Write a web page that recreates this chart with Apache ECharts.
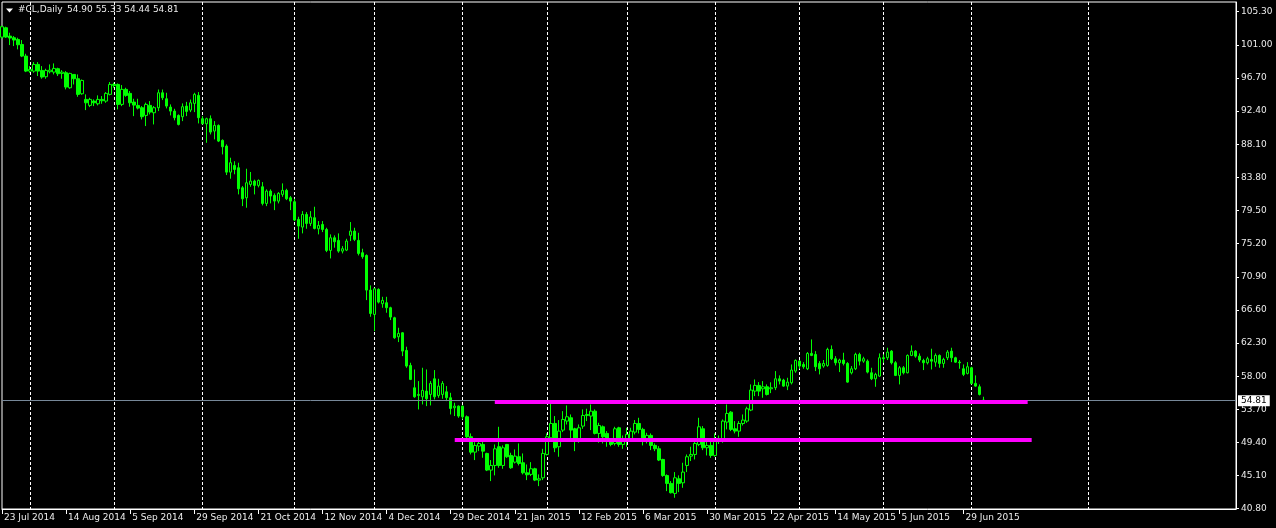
<!DOCTYPE html>
<html><head><meta charset="utf-8">
<script src="https://cdn.jsdelivr.net/npm/echarts@6/dist/echarts.min.js"></script>
<style>html,body{margin:0;padding:0;background:#000;}#c{width:1276px;height:528px;}</style>
</head><body><div id="c"></div>
<script>
// ---- data ----
const symbolName = '#CL,Daily';
const tickLabels = ['23 Jul 2014','14 Aug 2014','5 Sep 2014','29 Sep 2014','21 Oct 2014','12 Nov 2014','4 Dec 2014','29 Dec 2014','21 Jan 2015','12 Feb 2015','6 Mar 2015','30 Mar 2015','22 Apr 2015','14 May 2015','5 Jun 2015','29 Jun 2015'];
const priceTicks = [40.80,45.10,49.40,53.70,58.00,62.30,66.60,70.90,75.20,79.50,83.80,88.10,92.40,96.70,101.00,105.30];
const monthStartBars = [7,28,50,73,93,115,136,156,178,199,220,242,271];
const levelValues = [54.74, 49.74];
const levelFrom = [123, 113];
const levelTo = [256, 257];
const totalSlots = 309;

const open = [
102.00,103.22,102.14,101.92,101.70,101.05,99.54,97.59,97.59,98.46,
97.68,96.86,97.51,97.46,97.90,97.29,97.38,95.43,97.16,96.60,
94.65,93.92,93.14,93.70,93.35,93.92,93.70,94.57,95.86,95.86,
93.27,95.22,94.70,93.57,93.14,92.84,91.84,93.14,92.19,92.84,
94.78,94.00,92.92,92.40,91.84,91.67,93.05,92.53,93.40,94.44,
91.41,90.76,91.41,89.81,90.54,88.60,87.86,84.48,85.35,85.05,
82.45,81.15,82.88,83.32,82.76,82.58,80.42,82.02,81.46,80.72,
81.59,82.11,81.15,80.64,78.34,77.35,78.99,77.82,78.56,77.13,
77.69,77.04,74.32,75.96,75.62,74.23,74.36,76.27,76.83,75.62,
74.02,73.67,69.17,66.01,69.26,67.40,67.53,66.88,65.58,63.11,
63.63,61.34,59.39,56.49,55.50,55.32,56.06,55.63,57.66,55.50,
55.63,55.97,55.20,53.90,54.11,54.11,52.73,50.13,48.14,48.92,
49.14,47.97,45.81,46.41,48.84,46.41,49.14,47.71,46.84,47.54,
46.76,45.46,45.25,45.98,44.51,44.81,47.84,50.00,51.86,48.84,
51.00,52.17,52.60,51.17,49.57,51.52,52.90,52.82,53.46,50.57,
51.43,50.57,49.57,49.27,51.30,49.14,49.57,49.87,50.74,51.86,
51.09,49.70,50.31,49.01,48.58,47.19,45.10,44.08,42.78,44.68,
44.16,46.41,47.62,47.84,49.14,51.17,48.71,49.01,47.71,49.87,
49.57,52.04,53.33,51.17,50.87,51.86,52.17,53.60,56.06,56.80,
56.36,56.62,56.36,56.50,57.66,57.49,56.71,57.14,58.66,59.95,
59.52,58.96,60.95,60.82,59.65,59.31,59.39,61.47,60.26,59.74,
60.09,59.65,58.44,58.96,60.82,59.95,59.95,58.44,57.66,58.01,
60.39,60.39,61.25,59.74,58.10,59.09,58.44,60.69,61.25,60.60,
60.04,59.74,60.17,59.82,60.69,59.65,60.39,61.25,60.39,59.82,
58.96,58.36,59.09,57.06,56.62,54.90];
const close = [
103.35,102.01,101.88,101.62,101.01,99.54,97.59,97.81,98.46,97.59,
96.82,97.68,97.72,97.94,97.25,97.46,95.52,97.29,96.60,94.57,
96.38,93.48,93.92,93.48,93.92,93.74,94.70,95.86,95.73,93.27,
95.22,94.44,93.48,93.18,92.79,91.67,93.27,92.27,92.84,94.78,
94.13,93.05,92.40,91.54,90.67,92.97,92.36,93.48,94.57,91.54,
90.76,91.41,89.68,90.54,88.51,87.77,84.48,85.70,84.83,82.32,
81.02,83.10,83.32,82.76,83.40,80.42,82.02,81.37,80.72,81.72,
82.11,81.02,80.72,78.26,77.48,78.99,77.82,78.65,77.17,77.56,
77.04,74.32,75.96,75.44,74.23,74.54,75.53,76.83,75.75,73.93,
73.50,69.17,66.14,69.34,67.61,67.83,66.88,65.67,62.98,63.55,
61.25,59.31,57.58,55.32,55.63,56.15,55.07,57.06,55.32,56.71,
57.06,55.20,53.81,54.11,52.82,52.73,50.13,48.14,49.01,49.27,
48.27,45.81,46.41,48.57,46.41,48.70,47.54,46.11,47.62,46.67,
45.46,45.20,45.98,44.51,44.68,47.97,50.13,51.86,48.70,50.87,
52.38,52.73,51.00,49.57,51.30,52.90,53.03,53.46,50.57,51.60,
50.13,49.57,49.14,51.17,49.14,49.57,50.44,50.87,51.86,51.09,
49.87,50.31,49.01,48.58,47.11,45.10,44.08,42.87,44.81,44.08,
45.55,47.54,47.84,49.27,51.43,48.71,49.01,47.71,49.79,49.57,
52.17,53.16,51.09,50.87,51.86,52.30,53.77,56.19,56.80,56.06,
56.62,55.63,56.50,57.66,57.36,56.71,57.23,58.79,60.04,59.31,
59.22,60.95,60.69,59.22,58.96,59.65,61.47,60.26,59.74,60.09,
59.65,57.23,58.96,60.82,59.95,60.26,58.53,57.66,58.23,60.39,
60.26,61.12,59.74,58.10,59.09,58.44,60.69,61.25,60.60,60.09,
59.74,60.26,59.95,60.69,59.65,60.17,61.12,60.39,59.82,59.74,
58.23,59.22,57.06,56.71,55.63,54.81];
const low = [
101.80,101.90,100.97,100.84,100.41,99.41,97.46,97.38,97.38,96.95,
96.60,96.60,97.29,97.16,96.95,96.60,95.22,95.30,95.86,94.26,
94.52,92.53,92.92,93.05,93.14,93.35,93.48,94.44,95.43,92.62,
93.05,94.26,92.97,91.75,92.62,91.32,90.46,91.97,90.67,92.40,
93.83,92.75,91.84,91.20,90.54,91.10,91.75,92.27,92.27,90.80,
90.67,88.29,89.37,88.73,88.38,86.78,84.10,83.62,84.20,81.59,
80.07,79.86,82.58,81.59,82.50,80.16,80.07,80.42,79.55,80.42,
81.28,80.85,79.55,78.13,75.83,76.53,77.13,77.48,77.05,76.40,
76.70,74.10,73.28,74.67,74.02,73.93,74.23,75.53,75.53,73.67,
73.24,67.87,65.71,63.85,67.44,66.88,66.23,65.28,62.85,62.42,
60.60,59.09,57.49,55.20,53.68,54.33,54.11,54.20,54.98,55.20,
55.07,54.76,53.03,52.82,52.60,52.39,49.87,47.84,47.11,48.27,
47.41,45.68,44.38,45.12,46.11,45.98,47.40,45.98,46.67,46.41,
45.25,44.51,45.03,44.38,43.73,44.51,47.71,49.57,48.14,47.54,
50.74,51.73,49.87,48.27,49.36,51.17,52.17,51.00,50.44,49.36,
49.27,48.84,48.90,49.01,48.84,48.57,48.84,49.70,50.44,50.57,
49.01,49.27,48.40,48.27,46.98,44.94,43.08,42.78,42.22,42.95,
43.51,45.55,46.98,47.19,48.92,48.40,47.71,47.41,47.54,49.20,
49.36,51.09,50.87,50.57,50.13,51.60,51.95,53.46,55.41,55.41,
55.20,55.50,55.80,56.19,56.93,56.62,56.19,56.93,58.44,58.96,
58.96,58.79,60.60,58.66,58.23,59.09,59.22,60.09,59.39,58.53,
59.39,57.14,58.23,58.79,59.39,59.74,58.36,57.49,56.62,57.92,
59.74,60.09,59.52,58.01,56.93,58.23,58.36,60.60,60.39,59.82,
58.79,59.52,58.87,59.22,59.09,59.09,60.09,59.82,59.74,58.96,
58.01,58.23,56.93,56.62,55.50,54.44];
const high = [
103.50,103.35,102.57,102.14,101.92,101.62,99.84,98.24,98.76,98.76,
98.24,97.90,98.46,98.59,98.03,97.72,97.59,97.38,97.20,97.16,
96.50,94.57,94.13,93.92,94.44,94.35,94.87,96.17,96.08,95.99,
95.78,95.43,95.00,94.00,94.00,93.05,93.50,93.70,93.05,95.20,
95.20,94.78,93.27,92.70,91.97,93.40,93.60,93.90,94.78,94.87,
91.75,91.54,91.84,91.10,90.67,88.73,88.08,86.35,85.90,85.70,
82.67,84.92,84.50,83.50,83.53,83.19,82.24,82.24,81.72,81.89,
83.02,82.32,81.37,81.02,78.69,79.42,79.29,79.42,79.99,78.13,
78.13,77.26,76.40,76.27,76.53,74.88,75.83,78.00,77.26,76.61,
74.54,73.80,69.78,69.47,69.40,68.30,68.30,67.01,65.71,64.28,
63.72,61.82,59.74,58.87,57.36,59.09,58.87,57.36,58.79,57.66,
57.36,56.71,55.84,54.55,54.20,54.20,52.90,50.57,49.44,49.87,
49.79,48.06,47.11,49.14,51.43,49.01,49.20,48.06,48.49,49.27,
47.97,46.54,46.84,46.11,45.25,48.57,50.57,54.55,52.82,52.30,
53.46,54.20,53.03,51.30,51.73,53.68,53.77,54.33,53.68,51.95,
51.60,50.87,49.87,51.43,51.43,50.30,51.30,51.30,52.30,52.60,
51.30,50.65,50.57,49.27,48.92,47.28,45.25,44.38,45.55,45.12,
46.76,47.84,48.84,49.57,52.60,51.52,49.57,49.57,50.57,50.30,
52.38,54.33,53.46,52.17,52.17,53.03,54.03,56.93,57.57,57.23,
57.36,56.93,57.20,58.66,58.10,57.66,57.79,59.52,60.17,60.09,
59.82,61.12,62.77,61.25,59.95,60.09,61.69,61.99,60.60,60.26,
61.04,59.82,59.31,61.04,61.04,60.52,60.17,59.09,58.44,60.95,
60.82,61.69,61.38,59.95,59.31,59.31,60.82,61.99,61.38,60.95,
60.26,60.52,61.56,60.95,60.82,60.39,61.38,61.69,60.52,60.09,
59.52,59.82,59.22,58.10,56.93,55.33];

// ---- build chart ----
const FONT = '"DejaVu Sans", "Liberation Sans", sans-serif';
const FS = 9;
const TXT = '#ececec';
const categories = Array.from({length: totalSlots}, (_, i) => String(i));
const candles = open.map((o, i) => [o, close[i], low[i], high[i]]);
const last = open.length - 1;
const lastClose = close[last];
const headerValues = [open[last], high[last], low[last], close[last]].map(v => v.toFixed(2)).join(' ');

const isLabelBar = idx => idx % 16 === 0 && idx / 16 < tickLabels.length;

const markData = [
  {
    yAxis: lastClose,
    lineStyle: {color: '#778899', width: 1, type: 'solid'},
    label: {
      show: true, position: 'end', distance: 2,
      formatter: lastClose.toFixed(2),
      color: '#000', backgroundColor: '#fff',
      fontFamily: FONT, fontSize: FS, padding: [1, 3, 1, 3]
    }
  }
];
levelValues.forEach((v, k) => {
  markData.push([
    {coord: [levelFrom[k], v], lineStyle: {color: '#ff00ff', width: 4, type: 'solid'}, label: {show: false}},
    {coord: [levelTo[k], v]}
  ]);
});

const chart = echarts.init(document.getElementById('c'), null, {renderer: 'canvas'});
chart.setOption({
  backgroundColor: '#000',
  animation: false,
  grid: {left: 2, top: 2, right: 40, bottom: 19, show: true, borderColor: '#fff', borderWidth: 1, backgroundColor: 'transparent'},
  xAxis: {
    type: 'category',
    data: categories,
    boundaryGap: false,
    axisLine: {show: true, lineStyle: {color: '#fff', width: 1}},
    axisTick: {show: true, interval: isLabelBar, length: 5, lineStyle: {color: '#fff'}},
    axisLabel: {
      show: true, interval: isLabelBar, align: 'left', margin: 4,
      padding: [0, 0, 0, 2],
      color: TXT, fontFamily: FONT, fontSize: FS,
      formatter: (val, idx) => tickLabels[idx / 16]
    },
    splitLine: {show: true, interval: (idx) => monthStartBars.indexOf(idx) >= 0,
      lineStyle: {color: '#fff', width: 1, type: [3, 2]}}
  },
  yAxis: {
    type: 'value',
    position: 'right',
    min: 40.76, max: 106.56,
    axisLine: {show: true, lineStyle: {color: '#fff', width: 1}},
    axisTick: {show: true, length: 3, customValues: priceTicks, lineStyle: {color: '#fff'}},
    axisLabel: {show: true, margin: 5, customValues: priceTicks, color: TXT, fontFamily: FONT, fontSize: FS,
      formatter: v => v.toFixed(2)},
    splitLine: {show: false}
  },
  series: [{
    type: 'candlestick',
    data: candles,
    barWidth: 3,
    itemStyle: {color: '#000', color0: '#00ff00', borderColor: '#00ff00', borderColor0: '#00ff00', borderWidth: 1},
    markLine: {silent: true, symbol: ['none', 'none'], animation: false, data: markData}
  }],
  graphic: [
    {type: 'polygon', shape: {points: [[6, 8.5], [13, 8.5], [9.5, 12.5]]}, style: {fill: '#fff'}, z: 100},
    {type: 'text', left: 18, top: 5, z: 100, style: {text: symbolName, fill: TXT, font: FS + 'px ' + FONT}},
    {type: 'text', left: 67, top: 5, z: 100, style: {text: headerValues, fill: TXT, font: FS + 'px ' + FONT}}
  ]
});
</script></body></html>
